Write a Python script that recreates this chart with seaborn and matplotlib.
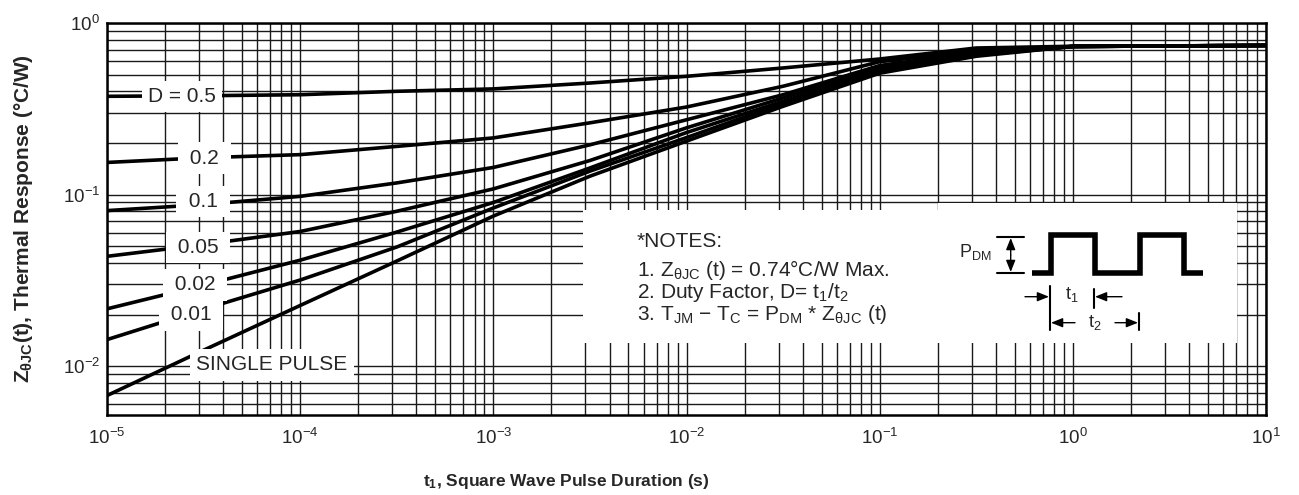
import numpy as np
import pandas as pd
import seaborn as sns
import matplotlib.pyplot as plt
from matplotlib.ticker import LogLocator, NullFormatter
from matplotlib.patches import Rectangle

# pulse duration (s) and normalised thermal response
t_sec = [1e-5, 3.16e-5, 1e-4, 3.16e-4, 1e-3, 3.16e-3, 1e-2, 3.16e-2, 1e-1, 3.16e-1, 1, 10]
z_d050 = [0.374, 0.377, 0.382, 0.400, 0.413, 0.447, 0.489, 0.547, 0.617, 0.715, 0.732, 0.740]
z_d020 = [0.154, 0.164, 0.171, 0.191, 0.214, 0.262, 0.324, 0.428, 0.595, 0.690, 0.730, 0.740]
z_d010 = [0.0807, 0.0875, 0.0977, 0.117, 0.144, 0.195, 0.273, 0.382, 0.565, 0.676, 0.730, 0.740]
z_d005 = [0.0437, 0.0512, 0.0610, 0.0800, 0.108, 0.158, 0.245, 0.366, 0.550, 0.665, 0.730, 0.740]
z_d002 = [0.0216, 0.0297, 0.0415, 0.0605, 0.090, 0.143, 0.230, 0.350, 0.530, 0.655, 0.730, 0.740]
z_d001 = [0.0143, 0.0215, 0.0318, 0.0495, 0.0836, 0.137, 0.215, 0.340, 0.520, 0.648, 0.730, 0.740]
z_single = [0.00675, 0.0124, 0.0226, 0.0410, 0.0750, 0.128, 0.205, 0.327, 0.510, 0.640, 0.730, 0.740]

curve_names = ['D = 0.5', '0.2', '0.1', '0.05', '0.02', '0.01', 'SINGLE PULSE']
curve_values = [z_d050, z_d020, z_d010, z_d005, z_d002, z_d001, z_single]

sns.set_style('white')
plt.rcParams['font.family'] = ['Liberation Sans', 'DejaVu Sans']
plt.rcParams['mathtext.fontset'] = 'custom'
plt.rcParams['mathtext.rm'] = 'Liberation Sans'
plt.rcParams['mathtext.it'] = 'Liberation Sans:italic'
plt.rcParams['mathtext.bf'] = 'Liberation Sans:bold'
plt.rcParams['mathtext.default'] = 'regular'

df = pd.concat([pd.DataFrame({'t': t_sec, 'Z': z, 'curve': name})
                for name, z in zip(curve_names, curve_values)])

fig = plt.figure(figsize=(12.99, 4.95), dpi=100)
ax = fig.add_axes([107 / 1299, 80 / 495, 1159 / 1299, 392 / 495])

sns.lineplot(data=df, x='t', y='Z', units='curve', estimator=None, sort=False,
             color='black', lw=2.6, ax=ax, legend=False)

ax.set_xscale('log')
ax.set_yscale('log')
ax.set_xlim(1e-5, 10)
ax.set_ylim(0.0052, 1)
for axis in (ax.xaxis, ax.yaxis):
    axis.set_major_locator(LogLocator(base=10, numticks=20))
    axis.set_minor_locator(LogLocator(base=10, subs=np.arange(2, 10), numticks=100))
    axis.set_minor_formatter(NullFormatter())
ax.set_axisbelow(True)
ax.grid(True, which='both', color='#1a1a1a', lw=1.0)
ax.tick_params(which='both', length=0, labelsize=13.5)
ax.tick_params(axis='x', pad=9)
ax.tick_params(axis='y', pad=5)
for s in ax.spines.values():
    s.set_linewidth(1.8)
    s.set_color('black')

ax.set_xlabel('t$_1$, Square Wave Pulse Duration (s)', fontsize=12.5, fontweight='bold',
              family=['Liberation Sans Narrow', 'Liberation Sans'])
ax.xaxis.set_label_coords(0.396, -0.17)
ax.xaxis.label.set_va('center')
ax.set_ylabel('Z$_{θJC}$(t), Thermal Response (°C/W)', fontsize=15, fontweight='bold')
ax.yaxis.set_label_coords(-0.072, 0.5)
ax.yaxis.label.set_va('center')


def ap(px, py):
    # pixel position in the figure -> axes fraction
    return ((px - 107) / 1159, (415 - py) / 392)


# curve labels on white patches
label_pos = [(182, 96.5), (204, 158), (203, 201.5), (198, 247.5), (195, 285), (191, 315), (272, 365)]
label_txt = ['D = 0.5', ' 0.2 ', ' 0.1 ', ' 0.05 ', ' 0.02 ', ' 0.01 ', 'SINGLE PULSE']
for (px, py), txt in zip(label_pos, label_txt):
    ax.text(*ap(px, py), txt, transform=ax.transAxes, ha='center', va='center',
            fontsize=15, zorder=5,
            bbox=dict(boxstyle='square,pad=0.3', facecolor='white', edgecolor='none'))

# notes panel
x0, y0 = ap(583, 343)
x1, y1 = ap(1237, 210)
ax.add_patch(Rectangle((x0, y0), x1 - x0, y1 - y0, transform=ax.transAxes,
                       facecolor='white', edgecolor='none', zorder=1.5))
x2, y2 = ap(938, 203)
ax.add_patch(Rectangle((x2, y0), x1 - x2, y2 - y0, transform=ax.transAxes,
                       facecolor='white', edgecolor='none', zorder=1.5))

notes = ['*NOTES:',
         '1. Z$_{θJC}$ (t) = 0.74°C/W Max.',
         '2. Duty Factor, D= t$_1$/t$_2$',
         '3. T$_{JM}$ − T$_C$ = P$_{DM}$ * Z$_{θJC}$ (t)']
for i, line in enumerate(notes):
    py = [241.5, 270, 292, 315][i]
    ax.text(*ap(637, py), line, transform=ax.transAxes, ha='left', va='center',
            fontsize=15, zorder=5)

# pulse train sketch
wave_px = [1031.7, 1050.7, 1050.7, 1095, 1095, 1140, 1140, 1184, 1184, 1203]
wave_py = [273, 273, 235, 235, 273, 273, 235, 235, 273, 273]
wx, wy = zip(*[ap(a, b) for a, b in zip(wave_px, wave_py)])
ax.plot(wx, wy, color='black', lw=4, transform=ax.transAxes, zorder=5,
        solid_joinstyle='miter', solid_capstyle='butt')

def seg(p, q, lw=1.5):
    a, b = ap(*p), ap(*q)
    ax.plot([a[0], b[0]], [a[1], b[1]], color='black', lw=lw, transform=ax.transAxes, zorder=5)

def arrow(tail, head):
    ax.annotate('', xy=ap(*head), xytext=ap(*tail), xycoords='axes fraction',
                textcoords='axes fraction', zorder=5,
                arrowprops=dict(arrowstyle='-|>,head_length=0.7,head_width=0.28',
                                color='black', lw=1.0, shrinkA=0, shrinkB=0))

seg((996.7, 236.7), (1024, 236.7))
seg((996.7, 273.3), (1024, 273.3))
arrow((1010.7, 255), (1010.7, 238))
arrow((1010.7, 255), (1010.7, 272))
ax.text(*ap(975, 252), 'P$_{DM}$', transform=ax.transAxes, ha='center', va='center', fontsize=13)

seg((1050, 286), (1050, 330))
seg((1094, 289), (1094, 308))
seg((1139, 313), (1139, 330))
arrow((1025, 296.7), (1049, 296.7))
arrow((1122, 296.7), (1095, 296.7))
arrow((1075, 322.7), (1051, 322.7))
arrow((1115, 322.7), (1138, 322.7))
ax.text(*ap(1072, 295), 't$_1$', transform=ax.transAxes, ha='center', va='center', fontsize=13)
ax.text(*ap(1095, 322), 't$_2$', transform=ax.transAxes, ha='center', va='center', fontsize=13)

fig.savefig('out.png', dpi=100)
